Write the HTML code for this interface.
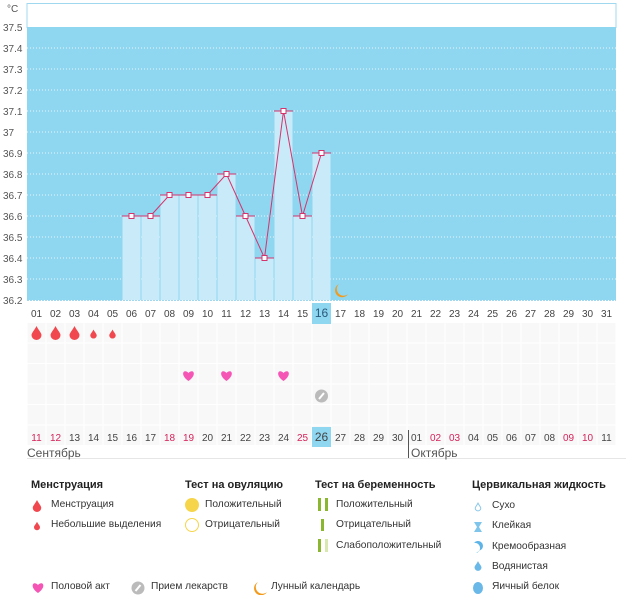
<!DOCTYPE html>
<html><head><meta charset="utf-8">
<style>
body{margin:0;width:626px;height:595px;background:#fff;font-family:"Liberation Sans",sans-serif;overflow:hidden;position:relative}
svg{position:absolute;left:0;top:0}
.lg{position:absolute;font-size:10.2px;color:#333;white-space:nowrap}
.h{font-weight:bold;font-size:11px;color:#222}
</style></head><body>
<svg id="c" width="626" height="595"></svg>
<div class="lg h" style="left:31px;top:479px">Менструация</div>
<div class="lg h" style="left:185px;top:479px">Тест на овуляцию</div>
<div class="lg h" style="left:315px;top:479px">Тест на беременность</div>
<div class="lg h" style="left:472px;top:479px">Цервикальная жидкость</div>
<div class="lg" style="left:51px;top:499px">Менструация</div>
<div class="lg" style="left:51px;top:519px">Небольшие выделения</div>
<div class="lg" style="left:205px;top:499px">Положительный</div>
<div class="lg" style="left:205px;top:519px">Отрицательный</div>
<div class="lg" style="left:336px;top:499px">Положительный</div>
<div class="lg" style="left:336px;top:519px">Отрицательный</div>
<div class="lg" style="left:336px;top:540px">Слабоположительный</div>
<div class="lg" style="left:492px;top:500px">Сухо</div>
<div class="lg" style="left:492px;top:520px">Клейкая</div>
<div class="lg" style="left:492px;top:541px">Кремообразная</div>
<div class="lg" style="left:492px;top:561px">Водянистая</div>
<div class="lg" style="left:492px;top:581px">Яичный белок</div>
<div class="lg" style="left:51px;top:581px">Половой акт</div>
<div class="lg" style="left:151px;top:581px">Прием лекарств</div>
<div class="lg" style="left:271px;top:581px">Лунный календарь</div>
<script>
const days=[1,2,3,4,5,6,7,8,9,10,11,12,13,14,15,16,17,18,19,20,21,22,23,24,25,26,27,28,29,30,31];
const tempDays=[6,7,8,9,10,11,12,13,14,15,16];
const temps=[36.6,36.6,36.7,36.7,36.7,36.8,36.6,36.4,37.1,36.6,36.9];
const yTicks=[36.2,36.3,36.4,36.5,36.6,36.7,36.8,36.9,37,37.1,37.2,37.3,37.4,37.5];
const dates=["11","12","13","14","15","16","17","18","19","20","21","22","23","24","25","26","27","28","29","30","01","02","03","04","05","06","07","08","09","10","11"];
const redDates=[0,1,7,8,14,21,22,28,29];
const bigDrops=[1,2,3];const smallDrops=[4,5];
const hearts=[9,11,14];const pills=[16];
const today=16;
const NS="http://www.w3.org/2000/svg",svg=document.getElementById('c');
const X0=27,CW=19,Y0=300,YT=27,YMIN=36.2,YMAX=37.5;
const xc=d=>X0+CW*(d-0.5), y=v=>Y0-(v-YMIN)/(YMAX-YMIN)*(Y0-YT);
function el(t,a,p){const e=document.createElementNS(NS,t);for(const k in a)e.setAttribute(k,a[k]);(p||svg).appendChild(e);return e}
function tx(x,yy,s,a){const e=el('text',Object.assign({x:x,y:yy,'font-size':10,'font-family':'Liberation Sans, sans-serif',fill:'#444'},a||{}));e.textContent=s;return e}
let e;
e=el('rect',{x:X0,y:3.5,width:CW*31,height:24,fill:'#fff',stroke:'#9fd8ef'});

e=el('rect',{x:X0,y:YT,width:CW*31,height:Y0-YT,fill:'#8fd6f0'});

e=tx(7,12,'°C',{fill:'#555'});
yTicks.forEach(v=>{
 if(v>YMIN&&v<YMAX){e=el('line',{x1:X0,x2:X0+CW*31,y1:y(v),y2:y(v),stroke:'#e8f7fd','stroke-dasharray':'1,2','stroke-width':1});
 }
 e=tx(3,y(v)+4,String(v),{'font-size':10,fill:'#555'});
 
});
el('line',{x1:X0,x2:X0+CW*31,y1:Y0+0.5,y2:Y0+0.5,stroke:'#9fd8ef','stroke-dasharray':'2,1'});
tempDays.forEach((d,i)=>{
 e=el('rect',{x:xc(d)-CW/2+0.5,y:y(temps[i]),width:CW-1,height:Y0-y(temps[i]),fill:'#c9ebf9'});
 
 e=el('line',{x1:xc(d)-CW/2,x2:xc(d)+CW/2,y1:y(temps[i]),y2:y(temps[i]),stroke:'#d6336c'});
 
});
e=el('polyline',{points:tempDays.map((d,i)=>xc(d)+','+y(temps[i])).join(' '),fill:'none',stroke:'#d6336c','stroke-width':1});

tempDays.forEach((d,i)=>{e=el('rect',{x:xc(d)-2.5,y:y(temps[i])-2.5,width:5,height:5,fill:'#fff',stroke:'#d6336c'});
 });
function moon(x,yy){return el('path',{d:`M${x},${yy-6} A7,7 0 1,0 ${x+9},${yy+4} A6,6 0 0,1 ${x},${yy-6}z`,fill:'#f39a1a'})}
e=moon(339,290);
for(let r=0;r<6;r++)for(let d=1;d<=31;d++){el('rect',{x:xc(d)-CW/2+0.5,y:323+r*20.5,width:CW-1,height:19.5,fill:'#f8f8f8'});}
el('rect',{x:xc(today)-CW/2,y:303,width:CW,height:21,fill:'#8fd6f0'});
el('rect',{x:xc(today)-CW/2,y:427,width:CW,height:20,fill:'#8fd6f0'});
days.forEach((d,i)=>{
 e=tx(xc(d),317,String(d).padStart(2,'0'),{'text-anchor':'middle',fill:d===today?'#2a5a7a':'#444','font-size':d===today?12:10});
 
 e=tx(xc(d),441,dates[i],{'text-anchor':'middle',fill:redDates.includes(i)?'#d6225a':'#444','font-size':d===today?12:10});
 
});
function drop(cx,cy,s){return el('path',{d:`M${cx},${cy-7*s} C${cx+2*s},${cy-3*s} ${cx+5*s},${cy} ${cx+5*s},${cy+2*s} A${5*s},${5*s} 0 1,1 ${cx-5*s},${cy+2*s} C${cx-5*s},${cy} ${cx-2*s},${cy-3*s} ${cx},${cy-7*s}z`,fill:'#f0484e'})}
bigDrops.forEach(d=>{e=drop(xc(d),333,1);});
smallDrops.forEach(d=>{e=drop(xc(d),334,0.65);});
function heart(cx,cy){return el('path',{d:`M${cx},${cy+5} C${cx-9},${cy-1} ${cx-5},${cy-8} ${cx},${cy-3} C${cx+5},${cy-8} ${cx+9},${cy-1} ${cx},${cy+5}z`,fill:'#f556b5'})}
hearts.forEach(d=>{e=heart(xc(d),376);});
function pill(cx,cy){const g=el('g',{});el('circle',{cx:cx,cy:cy,r:6.5,fill:'#bbb'},g);el('line',{x1:cx-2.5,y1:cy+3,x2:cx+2.5,y2:cy-3,stroke:'#fff','stroke-width':2},g);return g}
pills.forEach(d=>{e=pill(xc(d),396);});
el('line',{x1:27,x2:626,y1:458.5,y2:458.5,stroke:'#e6e6e6'});
el('line',{x1:408.5,x2:408.5,y1:430,y2:458,stroke:'#555'});
e=tx(27,457,'Сентябрь',{'font-size':12,fill:'#555'});
e=tx(411,457,'Октябрь',{'font-size':12,fill:'#555'});
drop(37,506,0.85);drop(37,526,0.6);
el('circle',{cx:192,cy:505,r:7,fill:'#f7d54a'});el('circle',{cx:192,cy:525,r:6.5,fill:'#fff',stroke:'#f7d54a'});
[[318,'#8ab630'],[325,'#8ab630']].forEach(a=>el('rect',{x:a[0],y:498,width:3,height:13,fill:a[1]}));
el('rect',{x:321,y:519,width:3,height:12,fill:'#8ab630'});
el('rect',{x:318,y:539,width:3,height:13,fill:'#8ab630'});el('rect',{x:325,y:539,width:3,height:13,fill:'#d9e8b0'});
drop(478,507,0.55).setAttribute('fill','none');svg.lastChild.setAttribute('stroke','#8cc8ea');
el('path',{d:'M474,522 h8 l-3,5 l3,5 h-8 l3,-5z',fill:'#7fc4ea'});
el('path',{d:'M474,543 a5,5 0 0,1 8,6 l-6,4 a5,5 0 0,0 -2,-10z',fill:'#5db4e6'});
drop(478,566,0.7).setAttribute('fill','#6ab8e8');
el('ellipse',{cx:478,cy:588,rx:5,ry:6,fill:'#6ab8e8'});
heart(38,588);pill(138,588);
moon(258,588);
</script>
</body></html>
